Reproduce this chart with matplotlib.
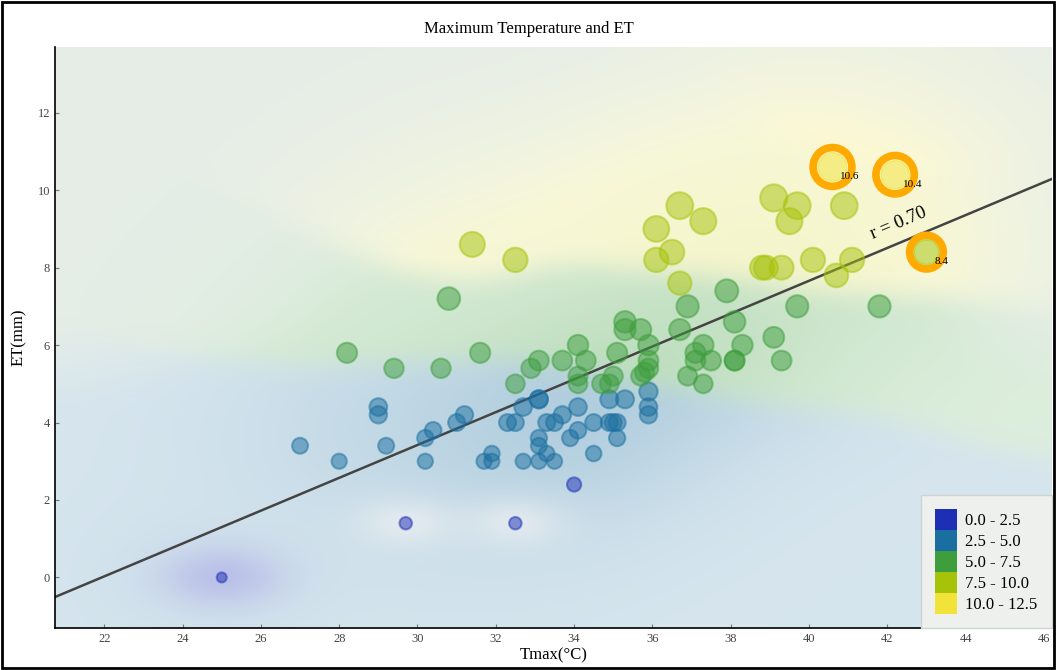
import numpy as np
import matplotlib
matplotlib.use("Agg")
import matplotlib.pyplot as plt
from matplotlib.patches import Patch, Rectangle
from matplotlib.colors import to_rgb

plt.rcParams['font.family'] = ['Liberation Serif', 'DejaVu Serif']

# data
tmax = [25.0, 29.7, 32.5, 34.0,
        27.0, 28.0, 29.0, 29.0, 29.2, 30.2, 30.2, 30.4, 31.0, 31.2, 31.7, 31.9,
        31.9, 32.3, 32.5, 32.7, 32.7, 33.1, 33.1, 33.1, 33.1, 33.1, 33.3, 33.5,
        33.3, 33.5, 33.7, 33.9, 34.1, 34.1, 34.5, 34.5, 34.9, 34.9, 35.0, 35.1,
        35.1, 35.3, 35.9, 35.9, 35.9,
        28.2, 29.4, 30.6, 30.8, 31.6, 32.5, 32.9, 33.1, 33.7, 34.1, 34.3, 34.1,
        34.1, 34.7, 34.9, 35.0, 35.1, 35.3, 35.3, 35.7, 35.9, 35.9, 35.9, 35.7,
        35.8, 36.7, 36.9, 36.9, 37.1, 37.1, 37.3, 37.3, 37.5, 37.9, 38.1, 38.1,
        38.1, 38.3, 39.1, 39.3, 39.7, 41.8,
        31.4, 32.5, 36.1, 36.1, 36.5, 36.7, 36.7, 37.3, 38.8, 38.9, 39.3, 39.1,
        39.5, 39.7, 40.1, 40.7, 40.9, 41.1]
et = [0.0, 1.4, 1.4, 2.4,
      3.4, 3.0, 4.4, 4.2, 3.4, 3.0, 3.6, 3.8, 4.0, 4.2, 3.0, 3.2,
      3.0, 4.0, 4.0, 4.4, 3.0, 4.6, 4.6, 3.6, 3.4, 3.0, 3.2, 3.0,
      4.0, 4.0, 4.2, 3.6, 3.8, 4.4, 3.2, 4.0, 4.0, 4.6, 4.0, 4.0,
      3.6, 4.6, 4.8, 4.4, 4.2,
      5.8, 5.4, 5.4, 7.2, 5.8, 5.0, 5.4, 5.6, 5.6, 6.0, 5.6, 5.2,
      5.0, 5.0, 5.0, 5.2, 5.8, 6.6, 6.4, 6.4, 6.0, 5.6, 5.4, 5.2,
      5.3, 6.4, 7.0, 5.2, 5.8, 5.6, 6.0, 5.0, 5.6, 7.4, 6.6, 5.6,
      5.6, 6.0, 6.2, 5.6, 7.0, 7.0,
      8.6, 8.2, 9.0, 8.2, 8.4, 9.6, 7.6, 9.2, 8.0, 8.0, 8.0, 9.8,
      9.2, 9.6, 8.2, 7.8, 9.6, 8.2]

# highlighted points
top_tmax = [40.6, 42.2, 43.0]
top_et = [10.6, 10.4, 8.4]

bin_edges = [0.0, 2.5, 5.0, 7.5, 10.0, 12.5]
bin_labels = ['0.0 - 2.5', '2.5 - 5.0', '5.0 - 7.5', '7.5 - 10.0', '10.0 - 12.5']
bin_colors = ['#1c2fb5', '#1b6fa0', '#3e9e3e', '#a6c30a', '#f2e33a']
# background shading is paler / yellower than the marker colours
shade_colors = ['#1c2fb5', '#1b6fa0', '#3e9e3e', '#dcdc48', '#f2e33a']

# regression line
slope, intercept = 0.424, -9.30
r_text = 'r = 0.70'

xlim = (20.74, 46.2)
ylim = (-1.3, 13.7)

x_all = np.array(tmax + top_tmax)
y_all = np.array(et + top_et)


def bin_index(v):
    return np.clip(np.digitize(v, bin_edges[1:-1]), 0, 4)


fig = plt.figure(figsize=(10.57, 6.70), dpi=100)
ax = fig.add_axes([0.052, 0.063, 0.943, 0.867])

# smoothed background field
gx = np.linspace(xlim[0], xlim[1], 400)
gy = np.linspace(ylim[0], ylim[1], 240)
GX, GY = np.meshgrid(gx, gy)

keep = y_all >= bin_edges[1]
xs, ys = x_all[keep], y_all[keep]
d2 = ((GX[..., None] - xs) / 1.4) ** 2 + ((GY[..., None] - ys) / 1.0) ** 2
logw = -0.5 * d2
logw -= logw.max(axis=-1, keepdims=True)
w = np.exp(logw)
field = (w * ys).sum(-1) / w.sum(-1)
field = field - 0.5 * np.maximum(0, field - GY)
field = np.maximum(field, 2.6)


def density(sx, sy):
    d = np.exp(-0.5 * (((GX[..., None] - x_all) / sx) ** 2
                       + ((GY[..., None] - y_all) / sy) ** 2)).sum(-1)
    return d / d.max()


dens = density(1.8, 1.2)
dens_wide = density(2.4, 1.9)

rgb_bins = np.array([to_rgb(c) for c in shade_colors])
img = rgb_bins[bin_index(field)]


def blur(a, s):
    k = np.exp(-0.5 * (np.arange(-3 * s, 3 * s + 1) / s) ** 2)
    k /= k.sum()
    pad = 3 * s
    a = np.pad(a, ((pad, pad), (pad, pad), (0, 0)), mode='edge')
    a = np.apply_along_axis(lambda m: np.convolve(m, k, mode='same'), 0, a)
    a = np.apply_along_axis(lambda m: np.convolve(m, k, mode='same'), 1, a)
    return a[pad:-pad, pad:-pad]


img = blur(img, 5)
alpha = 0.18 + 0.16 * np.sqrt(dens)
bg = 1 - alpha[..., None] * (1 - img)

# far from the data in the upper part the field fades to a neutral tint
neutral = np.array([0.90, 0.93, 0.905])
mix = np.clip(np.sqrt(dens_wide) * 2.8 + np.clip((6.5 - GY) / 2.5, 0, 1), 0, 1)
mix = blur(mix[..., None], 5)
bg = neutral * (1 - mix) + bg * mix

# low points: purple blob for the zero value, pale halos for the others
for xv, yv in zip(x_all[~keep], y_all[~keep]):
    if yv < 1.0:
        b = np.exp(-0.5 * (((GX - xv) / 1.1) ** 2 + ((GY - yv) / 0.55) ** 2))
        tint = 1 - 0.3 * (1 - rgb_bins[0])
        bg = bg * (1 - b[..., None]) + tint * b[..., None]
    elif yv < 2.0:
        b = 0.6 * np.exp(-0.5 * (((GX - xv) / 0.9) ** 2 + ((GY - yv) / 0.45) ** 2))
        bg = bg * (1 - b[..., None]) + 0.95 * b[..., None]

ax.imshow(bg, extent=(xlim[0], xlim[1], ylim[0], ylim[1]), origin='lower',
          aspect='auto', interpolation='bilinear', zorder=0)


def marker_size(v):
    d = 10 + 1.75 * np.asarray(v)
    return (0.72 * d) ** 2


pt_cols = [bin_colors[i] for i in bin_index(np.array(et))]
ax.scatter(tmax, et, s=marker_size(et), c=pt_cols, alpha=0.5,
           edgecolors=pt_cols, linewidths=1.5, zorder=3)

top_cols = [bin_colors[i] for i in bin_index(np.array(top_et))]
ax.scatter(top_tmax, top_et, s=marker_size(top_et) * 1.85, facecolors='none',
           edgecolors='#ffaa00', linewidths=5.5, zorder=4)
ax.scatter(top_tmax, top_et, s=marker_size(top_et), c=top_cols, alpha=0.5,
           edgecolors=top_cols, linewidths=1.2, zorder=5)
for xv, yv in zip(top_tmax, top_et):
    ax.text(xv + 0.2, yv - 0.25, f'{yv:.1f}', fontsize=8, ha='left', va='center',
            zorder=6)

# regression line
lx = np.array(xlim)
ax.plot(lx, slope * lx + intercept, color='#444444', lw=1.8, zorder=2)
ax.text(42.3, slope * 42.3 + intercept + 0.5, r_text, fontsize=13.5,
        rotation=22.8, rotation_mode='anchor', ha='center', va='center', zorder=6)

ax.set_xlim(xlim)
ax.set_ylim(ylim)
ax.set_xticks(np.arange(22, 47, 2))
ax.set_yticks(np.arange(0, 13, 2))
ax.tick_params(direction='in', length=3, labelsize=9, labelcolor='#444444',
               color='#777777')
for side in ['top', 'right']:
    ax.spines[side].set_visible(False)
for side in ['left', 'bottom']:
    ax.spines[side].set_linewidth(1.2)

ax.set_xlabel('Tmax(°C)', fontsize=12, labelpad=2)
ax.set_ylabel('ET(mm)', fontsize=12, labelpad=8)
fig.text(0.5, 0.957, 'Maximum Temperature and ET', ha='center', va='center',
         fontsize=12)

handles = [Patch(facecolor=c, edgecolor='none') for c in bin_colors]
leg = ax.legend(handles, bin_labels, loc='lower right', fontsize=12,
                handlelength=1.3, handleheight=1.55, labelspacing=0,
                handletextpad=0.5, borderpad=0.85, borderaxespad=0,
                fancybox=False, framealpha=1)
leg.get_frame().set_facecolor('#edf0ec')
leg.get_frame().set_edgecolor('#d0d4d0')

fig.add_artist(Rectangle((0.002, 0.003), 0.995, 0.994, transform=fig.transFigure,
                         fill=False, lw=2, edgecolor='black'))

fig.savefig('out.png', dpi=100)
